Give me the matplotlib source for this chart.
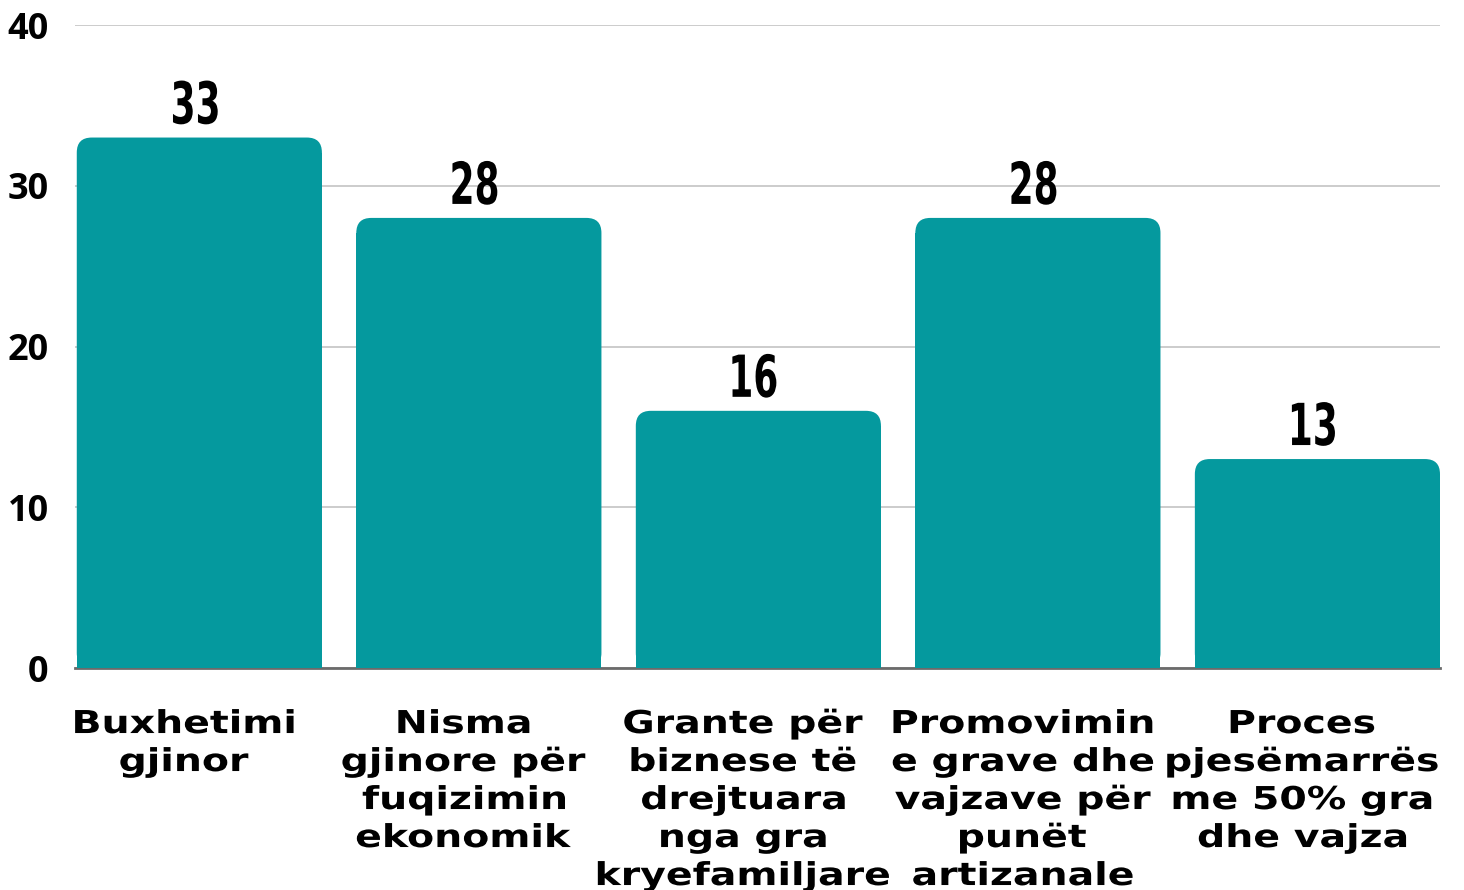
import matplotlib
matplotlib.use("Agg")
import matplotlib.pyplot as plt
import matplotlib.transforms as mtransforms
from matplotlib.textpath import TextPath
from matplotlib.patches import PathPatch, FancyBboxPatch
from matplotlib.font_manager import FontProperties
import numpy as np

# data
categories = [
    "Buxhetimi\ngjinor",
    "Nisma\ngjinore për\nfuqizimin\nekonomik",
    "Grante për\nbiznese të\ndrejtuara\nnga gra\nkryefamiljare",
    "Promovimin\ne grave dhe\nvajzave për\npunët\nartizanale",
    "Proces\npjesëmarrës\nme 50% gra\ndhe vajza",
]
values = [33, 28, 16, 28, 13]
yticks = [0, 10, 20, 30, 40]

bar_color = "#05999e"
bold = FontProperties(family="DejaVu Sans", weight="bold")


def path_text(ax, s, x, y, trans, height_px, stretch, dx_px, dy_px, ref="H"):
    # text drawn as a path so it can be stretched / squeezed horizontally
    ref_h = TextPath((0, 0), ref, size=100, prop=bold).get_extents().y1
    tp = TextPath((0, 0), s, size=100, prop=bold)
    ext = tp.get_extents()
    k = height_px / ref_h
    cx = (ext.x0 + ext.x1) / 2
    t = (mtransforms.Affine2D().translate(-cx, 0).scale(k * stretch, k)
         .translate(dx_px, dy_px) + mtransforms.ScaledTranslation(x, y, trans))
    ax.add_patch(PathPatch(tp, transform=t, color="black", lw=0, clip_on=False))


fig = plt.figure(figsize=(14.64, 8.9), dpi=100)
ax = fig.add_axes([0.0512, 0.2494, 0.9324, 0.7225])

x = np.arange(len(values))
width = 0.877
ax.set_xlim(-0.445, len(values) - 1 + 0.4385)
ax.set_ylim(0, 40)

# rounding of the bar tops (about 15 px)
fig.canvas.draw()
inv = ax.transData.inverted()
px_x = inv.transform([(15, 0)])[0][0] - inv.transform([(0, 0)])[0][0]
px_y = inv.transform([(0, 15)])[0][1] - inv.transform([(0, 0)])[0][1]
aspect = px_y / px_x

bars = ax.bar(x, [v - px_y for v in values], width, color=bar_color, zorder=3)
for rect, v in zip(bars, values):
    ax.add_patch(FancyBboxPatch((rect.get_x(), 0), rect.get_width(), v,
                                boxstyle=f"round,pad=0,rounding_size={px_x}",
                                mutation_aspect=aspect, fc=bar_color, ec="none", zorder=3))

# value labels
for xi, v in zip(x, values):
    path_text(ax, str(v), xi, v, ax.transData, 43, 0.62, -4, 14, ref="0")

# category labels
for xi, lab in zip(x, categories):
    for j, line in enumerate(lab.split("\n")):
        path_text(ax, line, xi, 0, ax.get_xaxis_transform(), 23, 1.25, -15, -65 - 38 * j)

ax.set_xticks([])
ax.set_yticks(yticks)
ax.set_yticklabels([str(t) for t in yticks], fontfamily="Open Sans", fontweight="bold", fontsize=26)
ax.tick_params(axis="y", length=0, pad=19)
ax.yaxis.grid(True, color="#c8c8c8", lw=1.3)
ax.set_axisbelow(True)
for s in ["top", "right", "left"]:
    ax.spines[s].set_visible(False)
ax.spines["bottom"].set_color("#6b6b6b")
ax.spines["bottom"].set_linewidth(2)

fig.savefig("out.png", dpi=100)
